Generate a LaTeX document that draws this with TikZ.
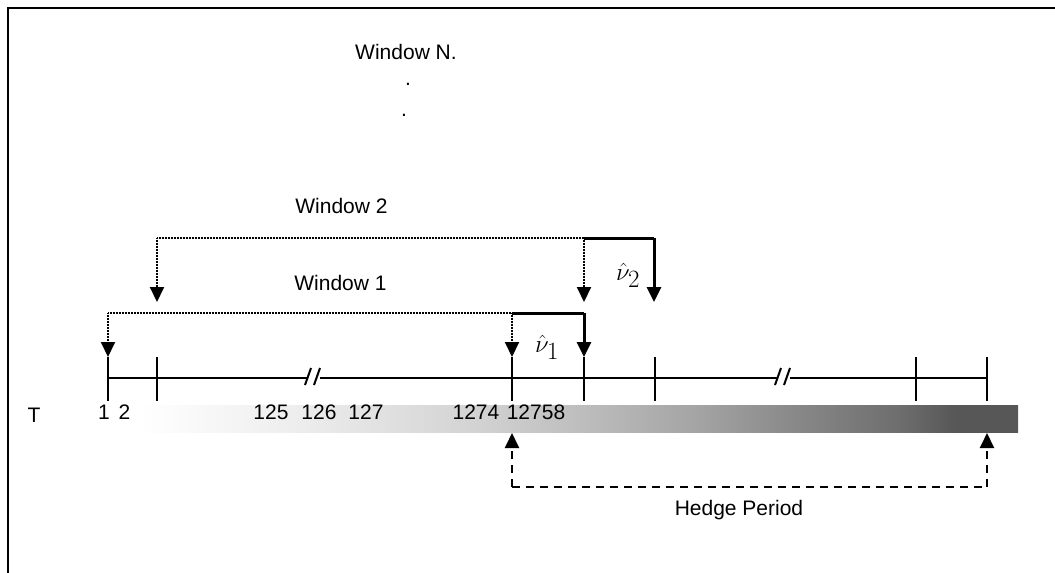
\documentclass[tikz,border=0pt]{standalone}
\usepackage{fontspec}
\setmainfont{Liberation Sans}
\usetikzlibrary{arrows.meta}
\definecolor{s0}{gray}{1}
\definecolor{s1}{gray}{0.93}
\definecolor{s2}{gray}{0.83}
\definecolor{s3}{gray}{0.74}
\definecolor{s4}{gray}{0.64}
\definecolor{s5}{gray}{0.53}
\definecolor{s6}{gray}{0.43}
\definecolor{s7}{gray}{0.34}
\pgfdeclarehorizontalshading{barshade}{100bp}{color(0bp)=(s0); color(27.4bp)=(s0); color(36bp)=(s1); color(45.3bp)=(s2); color(51.5bp)=(s3); color(57.8bp)=(s4); color(63.2bp)=(s5); color(68.6bp)=(s6); color(71.6bp)=(s7); color(75bp)=(s7); color(100bp)=(s7)}
\tikzset{
  lbl/.style={inner sep=0pt, anchor=base, font=\fontsize{21}{25}\selectfont},
  mlbl/.style={inner sep=0pt, anchor=base west, font=\fontsize{34}{38}\selectfont},
  tip/.style={-{Triangle[width=14pt,length=15pt]}},
  dotline/.style={line width=2pt, dash pattern=on 0.8pt off 0.7pt},
  solidline/.style={line width=3pt},
  axisline/.style={line width=2.4pt},
  tickline/.style={line width=2pt},
  hedgeline/.style={line width=2pt, dash pattern=on 8pt off 6pt},
}
\begin{document}
\begin{tikzpicture}[x=1pt,y=-1pt]
\useasboundingbox (0,0) rectangle (1055,573);
% frame
\draw[line width=2pt] (8.3,573) -- (8.3,8.3) -- (1055,8.3);
% gradient bar
\shade[shading=barshade] (95,405) rectangle (1018,432);
% coordinates
\coordinate (a0) at (108,378);
\coordinate (a1) at (987,378);
\foreach \n/\x in {t1/108,t2/157,t3/512,t4/584,t5/655,t6/916,t7/987}{
  \coordinate (\n top) at (\x,357);
  \coordinate (\n bot) at (\x,401);
}
% axis with breaks
\coordinate (b1l) at (306.5,378);
\coordinate (b1r) at (320,378);
\coordinate (b2l) at (776.5,378);
\coordinate (b2r) at (790,378);
\draw[axisline] (a0) -- (b1l);
\draw[axisline] (b1r) -- (b2l);
\draw[axisline] (b2r) -- (a1);
\draw[tickline] (305,385) -- (311,368);
\draw[tickline] (314,385) -- (320,368);
\draw[tickline] (775,385) -- (781,368);
\draw[tickline] (784,385) -- (790,368);
% ticks
\foreach \n in {t1,t2,t3,t4,t5,t6,t7}{
  \draw[tickline] (\n top) -- (\n bot);
}
% window 1 bracket
\coordinate (w1l) at (108,313);
\coordinate (w1m) at (512,313);
\coordinate (w1r) at (584,313);
\draw[dotline] (w1l) -- (w1m);
\draw[dotline,tip] (w1l) -- (t1top);
\draw[dotline,tip] (w1m) -- (t3top);
\draw[solidline] (w1m) -- (w1r);
\draw[solidline,tip] (w1r) -- (t4top);
% window 2 bracket
\coordinate (w2l) at (157,238);
\coordinate (w2m) at (584,238);
\coordinate (w2r) at (654,238);
\coordinate (w2la) at (157,302);
\coordinate (w2ma) at (584,302);
\coordinate (w2ra) at (654,302);
\draw[dotline] (w2l) -- (w2m);
\draw[dotline,tip] (w2l) -- (w2la);
\draw[dotline,tip] (w2m) -- (w2ma);
\draw[solidline] (w2m) -- (w2r);
\draw[solidline,tip] (w2r) -- (w2ra);
% hedge period
\coordinate (h1) at (512,433);
\coordinate (h2) at (987,433);
\coordinate (h1b) at (512,487);
\coordinate (h2b) at (987,487);
\draw[hedgeline] (h1b) -- (h2b);
\draw[hedgeline,tip] (h1b) -- (h1);
\draw[hedgeline,tip] (h2b) -- (h2);
% labels
\node[lbl] (wn) at (406,59) {Window N.};
\node[lbl] (d1) at (408,85) {.};
\node[lbl] (d2) at (404,116) {.};
\node[lbl] (w2) at (341.5,213) {Window 2};
\node[lbl] (w1) at (340.5,290) {Window 1};
\node[mlbl] (v1) at (535,352) {$\hat{\nu}_1$};
\node[mlbl] (v2) at (616,280) {$\hat{\nu}_2$};
\node[lbl] (T) at (34,422) {T};
\node[lbl] (n1) at (104,419) {1};
\node[lbl] (n2) at (124.5,419) {2};
\node[lbl] (n125) at (271,419) {125};
\node[lbl] (n126) at (319,419) {126};
\node[lbl] (n127) at (366,419) {127};
\node[lbl] (n1274) at (476,419) {1274};
\node[lbl] (n12758) at (536,419) {12758};
\node[lbl] (hp) at (739,515) {Hedge Period};
\end{tikzpicture}
\end{document}
